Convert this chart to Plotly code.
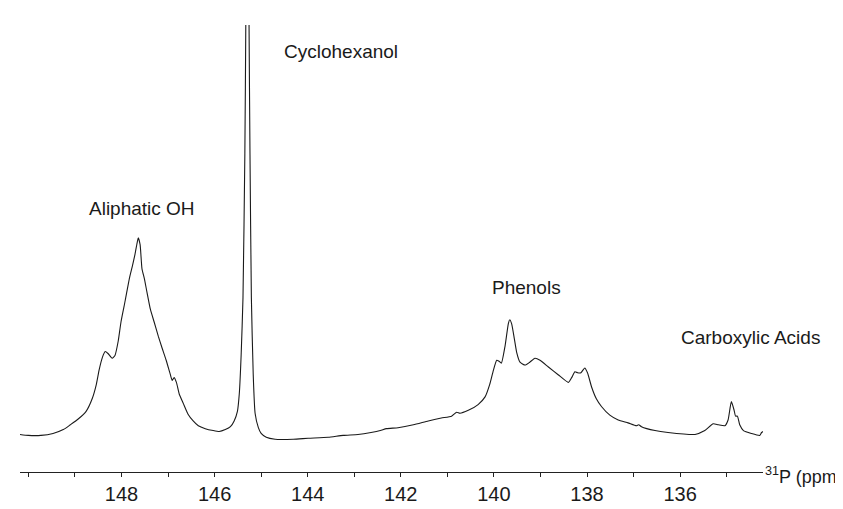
import plotly.graph_objects as go

# 31P NMR spectrum (ppm, intensity in arbitrary units)
ppm = [150.18, 150.00, 149.73, 149.47, 149.25, 149.10, 148.93, 148.76, 148.63, 148.54,
       148.48, 148.41, 148.35, 148.29, 148.20, 148.14, 148.07, 148.01, 147.92, 147.83,
       147.77, 147.71, 147.66, 147.64, 147.60, 147.56, 147.51, 147.45, 147.38, 147.30,
       147.21, 147.13, 147.04, 146.95, 146.91, 146.87, 146.82, 146.76, 146.67, 146.57,
       146.46, 146.35, 146.20, 146.03, 145.90, 145.77, 145.66, 145.58, 145.51, 145.47,
       145.43, 145.39, 145.35, 145.33, 145.30, 145.26, 145.24, 145.21, 145.17, 145.13,
       145.06, 145.00, 144.89, 144.70, 144.31, 143.99, 143.56, 143.24, 142.92, 142.64,
       142.44, 142.31, 142.06, 141.73, 141.41, 141.13, 140.91, 140.80, 140.73, 140.55,
       140.34, 140.19, 140.09, 140.02, 139.94, 139.89, 139.84, 139.76, 139.69, 139.66,
       139.62, 139.56, 139.51, 139.44, 139.33, 139.23, 139.12, 139.01, 138.83, 138.62,
       138.40, 138.33, 138.26, 138.20, 138.13, 138.05, 137.99, 137.90, 137.80, 137.69,
       137.51, 137.33, 137.12, 136.94, 136.89, 136.83, 136.54, 136.26, 135.68, 135.47,
       135.29, 135.18, 135.04, 134.97, 134.90, 134.84, 134.81, 134.77, 134.72, 134.64,
       134.47, 134.29, 134.25, 134.22]
intensity = [39, 38, 38, 40, 44, 49, 55, 63, 76, 91,
             106, 119, 125, 123, 118, 121, 136, 156, 178, 201,
             213, 226, 239, 243, 236, 211, 201, 186, 169, 156,
             141, 129, 116, 101, 95, 98, 93, 81, 71, 60,
             53, 48, 45, 43, 42, 44, 47, 53, 63, 81,
             121, 181, 331, 464, 900, 464, 331, 181, 101, 61,
             46, 40, 36, 34, 34, 35, 36, 38, 39, 41,
             43, 45, 46, 49, 53, 56, 58, 62, 61, 64,
             70, 78, 91, 104, 116, 115, 113, 131, 154, 158,
             154, 138, 124, 114, 111, 114, 118, 116, 109, 101,
             93, 98, 104, 103, 103, 108, 103, 88, 76, 68,
             59, 54, 51, 48, 49, 47, 43, 41, 39, 43,
             50, 49, 48, 54, 73, 64, 58, 58, 49, 43,
             40, 38, 41, 42]

tick_vals = [148, 146, 144, 142, 140, 138, 136]
tick_text = ["148", "146", "144", "142", "140", "138", "136"]

labels = ["Aliphatic OH", "Cyclohexanol", "Phenols", "Carboxylic Acids"]
label_x = [147.56, 143.28, 139.31, 134.49]
label_y = [274, 437, 192, 140]

x_range = [150.18, 134.22]
y_range = [0, 464]

font_family = "Arial, 'Liberation Sans', Helvetica, sans-serif"

fig = go.Figure()
fig.add_trace(go.Scatter(
    x=ppm, y=intensity, mode="lines",
    line=dict(color="#1a1a1a", width=1.1, shape="spline", smoothing=0.5),
    hoverinfo="skip", showlegend=False,
))

for t, x, y in zip(labels, label_x, label_y):
    fig.add_annotation(x=x, y=y, xref="x", yref="y", text=t, showarrow=False,
                       font=dict(family=font_family, size=19, color="#1a1a1a"))

fig.add_annotation(x=1.0, y=0, xref="paper", yref="paper", xanchor="left", yanchor="middle",
                   xshift=0, yshift=-3,
                   text="<sup>31</sup>P (ppm)", showarrow=False,
                   font=dict(family=font_family, size=18, color="#1a1a1a"))

fig.update_xaxes(
    range=x_range, showline=True, linecolor="#222", linewidth=1,
    ticks="outside", ticklen=4, tickcolor="#222", tickwidth=1,
    tickvals=tick_vals, ticktext=tick_text,
    tickfont=dict(family=font_family, size=20, color="#1a1a1a"),
    minor=dict(dtick=1, tick0=0, ticks="outside", ticklen=4, tickcolor="#222", tickwidth=1),
    showgrid=False, zeroline=False,
)
fig.update_yaxes(range=y_range, visible=False, showgrid=False, zeroline=False)

fig.update_layout(
    width=843, height=509,
    margin=dict(l=12, r=88, t=17, b=28),
    plot_bgcolor="white", paper_bgcolor="white",
)

fig.write_html("out.html")
